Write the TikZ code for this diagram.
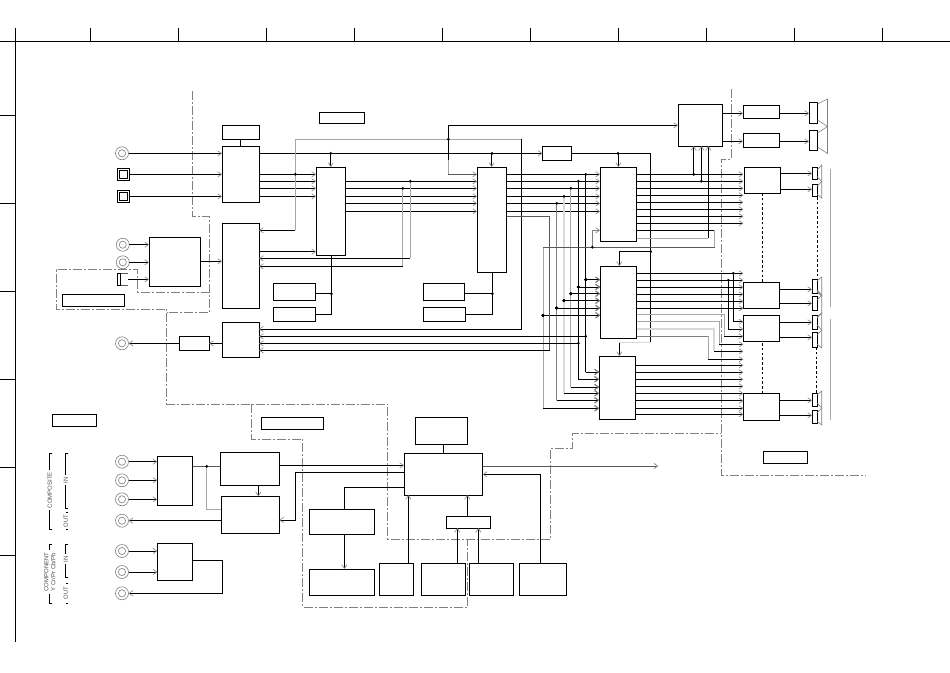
\documentclass[tikz,border=0pt]{standalone}
\usepackage{fontspec}
\setmainfont{Liberation Sans}
\usetikzlibrary{arrows.meta}
\definecolor{gA}{gray}{0.5}
\definecolor{gB}{gray}{0.65}
\definecolor{gC}{gray}{0.85}
\definecolor{gD}{gray}{0.35}
\tikzset{
  box/.style={draw=black,line width=.95pt,inner sep=0pt,outer sep=0pt,fill=white},
  sig/.style={line width=.95pt,draw=black},
  arr/.style={-{Straight Barb[length=3.8pt,width=5.2pt,color=gA,line width=.6pt]}},
  gl/.style={line width=.95pt,draw=gB},
  gm/.style={line width=.95pt,draw=gA},
  gd/.style={line width=.95pt,draw=gD},
  gp/.style={line width=1.4pt,draw=gC},
  bound/.style={line width=.8pt,draw=gA,dash pattern=on 9pt off 2pt on 2pt off 2pt},
  blk/.style={line width=.9pt,draw=black,dash pattern=on 2.6pt off 2.2pt},
  frm/.style={line width=.85pt,draw=black},
  rcan/.style={circle,draw=gA,line width=.6pt,minimum size=13pt,inner sep=0pt,outer sep=0pt},
  sqn/.style={rectangle,draw=black,line width=1.05pt,minimum size=12pt,inner sep=0pt,outer sep=0pt},
  cone/.style={line width=.6pt,draw=gA},
  lab/.style={font=\fontsize{6}{6}\selectfont,rotate=90,inner sep=0pt,text=black!70},
  brk/.style={line width=.85pt,draw=black}
}
\newcommand\bx[5]{\node[box,minimum width=#4pt-#2pt,minimum height=#5pt-#3pt] (#1) at ({(#2+#4)/2},{(#3+#5)/2}) {};}
\newcommand\rca[3]{\node[rcan] (#1) at (#2,#3) {}; \draw[draw=gA,line width=.6pt] (#1.center) circle[radius=3.6pt];}
\newcommand\sqc[3]{\node[sqn] (#1) at (#2,#3) {}; \draw[line width=.85pt] (#1.center) ++(-4.2pt,-4.2pt) rectangle ++(8.4pt,8.4pt);}
\newcommand\jn[2]{\fill (#1,#2) circle[radius=1.5pt];}
\begin{document}
\begin{tikzpicture}[x=1pt,y=-1pt]
\useasboundingbox (0,0) rectangle (950,672);
\fill[white] (0,0) rectangle (950,672);
% frame
\draw[frm] (0,41.5) -- (950,41.5);
\draw[frm] (15.5,28) -- (15.5,642);
\foreach \x in {90.5,178.5,266.5,354.5,442.5,530.5,618.5,706.5,794.5,882.5} \draw[frm] (\x,28) -- (\x,41.5);
\foreach \y in {115.5,203.5,291.5,379.5,467.5,555.5} \draw[frm] (0,\y) -- (15.5,\y);
% boundaries
\draw[bound] (192,91) -- (192,216) -- (209.5,216) -- (209.5,312) -- (166.5,312);
\draw[bound] (209.5,292) -- (137.5,292) -- (137.5,269.5) -- (56,269.5) -- (56,309) -- (166.5,309) -- (166.5,404) -- (387.7,404) -- (387.7,539) -- (550,539) -- (550,448) -- (572.7,448) -- (572.7,433) -- (721.3,433);
\draw[bound] (251.7,404) -- (251.7,439) -- (302.7,439) -- (302.7,607) -- (467.7,607) -- (467.7,539);
\draw[bound] (731.3,89) -- (731.3,159) -- (721.3,159) -- (721.3,475) -- (866,475);
% boxes
\bx{tb}{222}{125}{259}{139}
\bx{A}{222}{146}{259}{202}
\bx{B}{222}{223}{259}{308}
\bx{C}{149}{237}{200.5}{286}
\bx{D}{222}{322}{259}{357}
\bx{E}{179}{336}{209}{350}
\bx{capa}{62}{294}{124.5}{306}
\bx{ba}{273}{283}{315}{300}
\bx{bb}{273}{307}{315.5}{321}
\bx{F}{316}{167}{345.5}{255}
\bx{G}{477}{167}{506.5}{272.7}
\bx{bc}{423}{283}{464.5}{300}
\bx{bd}{423}{307}{465.5}{321}
\bx{sm}{542.5}{146}{571.7}{160.7}
\bx{H}{600}{167}{636.7}{241}
\bx{I}{600}{266}{636.7}{338}
\bx{J}{599}{356}{635.7}{419}
\bx{capb}{319}{112}{364.5}{123}
\bx{K}{678}{104}{722.5}{146}
\bx{K1}{743}{105}{779}{118}
\bx{K2}{743}{133}{779}{147}
\bx{L}{744}{167}{780.5}{193}
\bx{M}{743.3}{282}{779}{308}
\bx{N}{743.3}{315}{779.3}{341}
\bx{O}{743.3}{393}{779.3}{420}
\bx{capc}{763}{451}{807.7}{463}
\bx{capd}{261.3}{417}{323.7}{429}
\bx{cape}{52.3}{414}{96.3}{426}
\bx{P}{157.3}{456}{192.7}{505.3}
\bx{Q}{220.3}{452.3}{279.3}{485.3}
\bx{R}{221.3}{496.3}{279.3}{533.3}
\bx{S}{157.3}{543.3}{192.7}{580.3}
\bx{T}{415}{417}{467.7}{444}
\bx{U}{404}{453}{482.7}{495}
\bx{V}{446}{516}{490.7}{528}
\bx{W}{309}{509}{374.7}{534.7}
\bx{X}{309}{569}{374.7}{595}
\bx{Y1}{379}{563}{413.7}{595}
\bx{Y2}{421.3}{563}{465.7}{595}
\bx{Y3}{469.3}{563}{513.3}{595}
\bx{Y4}{519.3}{563}{566.7}{595}
% speakers
\bx{s1}{809}{102}{817}{123}
\bx{s2}{809}{130}{817}{150}
\bx{s3}{812}{167}{817}{179}
\bx{s4}{812}{184}{817}{196}
\bx{s5}{812}{279}{817}{293}
\bx{s6}{812}{296}{817}{310}
\bx{s7}{812}{315}{817}{329}
\bx{s8}{812}{332}{817}{347}
\bx{s9}{812}{393}{817}{406}
\bx{s10}{812}{410}{817}{423}
\draw[cone] (817.5,104) -- (827.5,99) -- (827.5,153.5) -- (817.5,147);
\draw[cone] (817.5,120) -- (827.5,126.5) -- (817.5,133);
\foreach \a/\b/\d/\e in {170/165/198/181.5,281/277/296/295,318/313/348/330,395/391/425/408}{
 \draw[cone] (817,\a) -- (821.7,\b) -- (821.7,\d) -- (817,\d-4);
 \draw[cone] (817,\e-5) -- (821.7,\e) -- (817,\e+5);
}
\draw[cone] (817,291) -- (821.7,295) -- (821.7,313) -- (817,317);
% gray rule right
\draw[gl] (830.7,169) -- (830.7,307);
\draw[gl] (830.7,319) -- (830.7,420);
% dashed
\draw[blk] (762,193) -- (762,282);
\draw[blk] (762,343) -- (762,393);
\draw[blk] (817,197) -- (817,279);
\draw[blk] (816,347) -- (816,393);
% RCA and sockets
\rca{r1}{122}{153.3}
\sqc{q1}{123.5}{174.3}
\sqc{q2}{123.5}{196.3}
\rca{r2}{122.8}{244.7}
\rca{r3}{122.8}{262.3}
\rca{r4}{122}{343.3}
\rca{r5}{122}{461.7}
\rca{r6}{122}{480.3}
\rca{r7}{122}{499.3}
\rca{r8}{122}{520.7}
\rca{r9}{122}{551}
\rca{r10}{122}{572}
\rca{r11}{122}{593.3}
\node[box,minimum width=3.5pt,minimum height=12pt] (jk) at (119,279.3) {};
\coordinate (jkp) at (128.3,279.3);
\draw[line width=.6pt,draw=gD] (jk.north east) -- (128.3,273.3) (jk.south east) -- (128.3,285.3);
% left inputs
\draw[sig,arr] (r1) -- (A.west |- r1);
\draw[sig,arr] (q1) -- (A.west |- q1);
\draw[sig,arr] (q2) -- (A.west |- q2);
\draw[sig,arr] (r2) -- (C.west |- r2);
\draw[sig,arr] (r3) -- (C.west |- r3);
\draw[sig,arr] (jkp) -- (C.west |- jkp);
\draw[sig,arr] (C.east |- 0,261.3) -- (B.west |- 0,261.3);
\draw[sig] (tb) -- (A.north -| tb);
\draw[sig,arr] (D.west |- r4) -- (E.east |- r4);
\draw[sig,arr] (E.west |- r4) -- (r4);
% A to F
\foreach \y in {174.3,181.3,188.3,196.3} \draw[sig,arr] (A.east |- 0,\y) -- (F.west |- 0,\y);
% top bus
\draw[sig,arr] (A.east |- r1) -- (sm.west |- r1);
\draw[sig] (sm.east |- r1) -- (650.7,153.3) -- (650.7,342.7);
\jn{330.7}{153.3}\jn{492}{153.3}\jn{618}{153.3}\jn{650.7}{251.7}
\draw[sig,arr] (F.north |- r1) -- (F.north);
\draw[sig,arr] (G.north |- r1) -- (G.north);
\draw[sig,arr] (H.north |- r1) -- (H.north);
\draw[sig,arr] (650.7,251.7) -- (619.3,251.7) -- (619.3,266);
\draw[gp] (650.7,342.7) -- (619.3,342.7);
\draw[sig,arr] (619.3,342.7) -- (619.3,356);
% gray loop to B and D
\draw[gl] (295.3,230.3) -- (295.3,139.3) -- (521.3,139.3);
\draw[sig,arr] (295.3,230.3) -- (B.east |- 0,230.3);
\draw[sig,arr] (521.3,139.3) -- (521.3,329) -- (D.east |- 0,329);
\jn{295.3}{174.3}
% to K
\coordinate (kb) at (448.3,125.3);
\draw[sig,arr] (448.3,160) -- (kb) -- (K.west |- kb);
\draw[gl] (448.3,160) -- (448.3,174.3);
\draw[gd,arr] (448.3,174.3) -- (G.west |- 0,174.3);
\jn{448.3}{139.3}
% F to G
\foreach \y in {181.3,188.3,196.3,203.3,211.3} \draw[sig,arr] (F.east |- 0,\y) -- (G.west |- 0,\y);
\draw[gl] (410.3,181.3) -- (410.3,258.3);
\draw[gl] (402.7,188.3) -- (402.7,266.3);
\jn{410.3}{181.3}\jn{402.7}{188.3}
\draw[sig,arr] (410.3,258.3) -- (B.east |- 0,258.3);
\draw[sig,arr] (402.7,266.3) -- (B.east |- 0,266.3);
\draw[sig,arr] (B.east |- 0,251.7) -- (F.west |- 0,251.7);
% F, G bottom
\draw[sig] (331.3,255) -- (331.3,314) -- (bb.east |- 0,314);
\draw[sig] (331.3,293.7) -- (ba.east |- 0,293.7);
\jn{331.3}{293.7}
\draw[sig] (492.3,272.7) -- (492.3,314) -- (bd.east |- 0,314);
\draw[sig] (492.3,293.7) -- (bc.east |- 0,293.7);
\jn{492.3}{293.7}
% G to H
\foreach \y in {174.3,181.3,188.3,196.3,203.3,211.3} \draw[sig,arr] (G.east |- 0,\y) -- (H.west |- 0,\y);
% verticals G/H -> I,J,D
\draw[sig] (585.7,174.3) -- (585.7,372);
\draw[sig] (578.3,181.3) -- (578.3,379.3);
\draw[gB,line width=.95pt] (570.8,188.3) -- (570.8,387);
\draw[gp] (564,196.3) -- (564,393.3);
\draw[gm] (556.7,203.3) -- (556.7,400.3);
\draw[gl] (543,247.3) -- (543,408.3);
\foreach \a/\b in {585.7/174.3,578.3/181.3,570.8/188.3,564/196.3,556.7/203.3} \jn{\a}{\b}
\foreach \a/\b in {585.7/279.7,578.3/287,570.8/293.7,564/300.7,556.7/308,543/315.3}{
  \jn{\a}{\b}
  \draw[sig,arr] (\a,\b) -- (I.west |- 0,\b);
}
\foreach \a/\b in {585.7/372,578.3/379.3,570.8/387,564/393.3,556.7/400.3,543/408.3}
  \draw[sig,arr] (\a,\b) -- (J.west |- 0,\b);
\draw[gd] (G.east |- 0,216.7) -- (549.7,216.7) -- (549.7,350.3);
\draw[sig,arr] (549.7,350.3) -- (D.east |- 0,350.3);
\draw[sig,arr] (585.7,336.3) -- (D.east |- 0,336.3);
\draw[sig,arr] (578.3,343.3) -- (D.east |- 0,343.3);
\jn{585.7}{336.3}\jn{578.3}{343.3}
% H extras
\draw[sig] (H.east |- 0,230.3) -- (714.7,230.3);
\draw[gl] (714.7,230.3) -- (714.7,247.3);
\draw[gd] (714.7,247.3) -- (543,247.3);
\draw[gm,arr] (592.3,247.3) -- (592.3,230.3) -- (H.west |- 0,230.3);
\jn{592.3}{247.3}
\draw[gl] (H.east |- 0,238.3) -- (708.3,238.3);
\draw[sig,arr] (708.3,238.3) -- (708.3,146);
\draw[sig,arr] (693.7,174.3) -- (693.7,146);
\draw[sig,arr] (701.3,181.3) -- (701.3,146);
\jn{693.7}{174.3}\jn{701.3}{181.3}
% H outputs
\foreach \y in {174.3,181.3,188.3,195.3,202.3,209.3,216.3,223.3} \draw[sig,arr] (H.east |- 0,\y) -- (743.3,\y);
% I outputs
\foreach \y in {273.3,280.3,287.3,294.3,301.3,308.3} \draw[sig,arr] (I.east |- 0,\y) -- (743.3,\y);
\jn{733.3}{273.3}\jn{728.3}{280.3}
\draw[sig,arr] (733.3,273.3) -- (733.3,321.7) -- (N.west |- 0,321.7);
\draw[sig,arr] (728.3,280.3) -- (728.3,329) -- (N.west |- 0,329);
\draw[gl] (I.east |- 0,314.3) -- (724.3,314.3) -- (724.3,336.3);
\draw[sig,arr] (724.3,336.3) -- (N.west |- 0,336.3);
\draw[gl] (I.east |- 0,321.7) -- (719.3,321.7) -- (719.3,344.3);
\draw[sig,arr] (719.3,344.3) -- (743.3,344.3);
\draw[gp] (I.east |- 0,329) -- (714,329) -- (714,351.3);
\draw[sig,arr] (714,351.3) -- (743.3,351.3);
\draw[gm] (I.east |- 0,336.3) -- (708.3,336.3);
\draw[gl] (708.3,336.3) -- (708.3,359.3);
\draw[sig,arr] (708.3,359.3) -- (743.3,359.3);
% J outputs
\foreach \y in {365.3,372.3,379.3,386.3,393.3,400.7,408.3,414.3} \draw[sig,arr] (J.east |- 0,\y) -- (743.3,\y);
% amps to speakers
\draw[sig,arr] (K.east |- 0,113.3) -- (K1.west |- 0,113.3);
\draw[sig,arr] (K.east |- 0,141.3) -- (K2.west |- 0,141.3);
\draw[sig,arr] (K1.east |- 0,113.3) -- (s1.west |- 0,113.3);
\draw[sig,arr] (K2.east |- 0,141.3) -- (s2.west |- 0,141.3);
\draw[sig,arr] (L.east |- 0,173.3) -- (s3.west |- 0,173.3);
\draw[sig,arr] (L.east |- 0,189.3) -- (s4.west |- 0,189.3);
\draw[sig,arr] (M.east |- 0,289.3) -- (s5.west |- 0,289.3);
\draw[sig,arr] (M.east |- 0,303.3) -- (s6.west |- 0,303.3);
\draw[sig,arr] (N.east |- 0,322.3) -- (s7.west |- 0,322.3);
\draw[sig,arr] (N.east |- 0,337.3) -- (s8.west |- 0,337.3);
\draw[sig,arr] (O.east |- 0,400.3) -- (s9.west |- 0,400.3);
\draw[sig,arr] (O.east |- 0,415.3) -- (s10.west |- 0,415.3);
% lower-left
\draw[sig,arr] (r5) -- (P.west |- r5);
\draw[sig,arr] (r6) -- (P.west |- r6);
\draw[sig,arr] (r7) -- (P.west |- r7);
\draw[sig,arr] (R.west |- r8) -- (r8);
\draw[sig,arr] (r9) -- (S.west |- r9);
\draw[sig,arr] (r10) -- (S.west |- r10);
\draw[sig,arr] (S.east |- 0,560.5) -- (222.3,560.5) -- (222.3,593.3) -- (r11);
\draw[gd] (P.east |- 0,466.3) -- (Q.west |- 0,466.3);
\draw[gl] (206.7,466.3) -- (206.7,509.3) -- (R.west |- 0,509.3);
\jn{206.7}{466.3}
\draw[sig,arr] (258.3,485.3) -- (258.3,496.3);
\draw[sig,arr] (Q.east |- 0,465.3) -- (U.west |- 0,465.3);
\draw[sig,arr] (U.west |- 0,472.3) -- (295,472.3) -- (295,520) -- (R.east |- 0,520);
\draw[sig] (U.west |- 0,487.3) -- (344.3,487.3) -- (W.north -| 344.3,0);
\draw[sig,arr] (W.south -| 344.3,0) -- (X.north -| 344.3,0);
\draw[sig] (T.south -| 443.3,0) -- (U.north -| 443.3,0);
\draw[sig,arr] (Y1.north -| 408.3,0) -- (U.south -| 408.3,0);
\draw[sig,arr] (V.north -| 467.3,0) -- (U.south -| 467.3,0);
\draw[sig,arr] (Y2.north -| 457.3,0) -- (V.south -| 457.3,0);
\draw[sig,arr] (Y3.north -| 478.3,0) -- (V.south -| 478.3,0);
\draw[sig,arr] (Y4.north -| 540.3,0) -- (540.3,474.3) -- (U.east |- 0,474.3);
\coordinate (ex) at (658.3,466);
\draw[gd,arr] (U.east |- ex) -- (ex);
% labels and brackets
\node[lab] (lcomposite) at (49.7,490) {COMPOSITE};
\node[lab] (lin1) at (65.7,480) {IN};
\node[lab] (lout1) at (65.7,520.8) {OUT};
\node[lab] (lcomponent) at (46.3,572) {COMPONENT};
\node[lab] (lycr) at (53.2,572) {Y Cr/Pr Cb/Pb};
\node[lab] (lin2) at (65.7,559) {IN};
\node[lab] (lout2) at (65.7,593) {OUT};
\draw[brk] (52,453.3) -- (49.7,453.3) -- (49.7,470) (49.7,510) -- (49.7,529) -- (52,529);
\draw[brk] (68,453.3) -- (65.7,453.3) -- (65.7,475) (65.7,485) -- (65.7,508) -- (68,508);
\draw[brk] (68,512.7) -- (65.7,512.7) (65.7,529) -- (68,529);
\draw[brk] (52,544.3) -- (49.7,544.3) -- (49.7,550) (49.7,594) -- (49.7,603.5) -- (52,603.5);
\draw[brk] (68,544.3) -- (65.7,544.3) -- (65.7,554) (65.7,564) -- (65.7,577) -- (68,577);
\draw[brk] (68,583) -- (65.7,583) (65.7,603.5) -- (68,603.5);
\end{tikzpicture}
\end{document}
